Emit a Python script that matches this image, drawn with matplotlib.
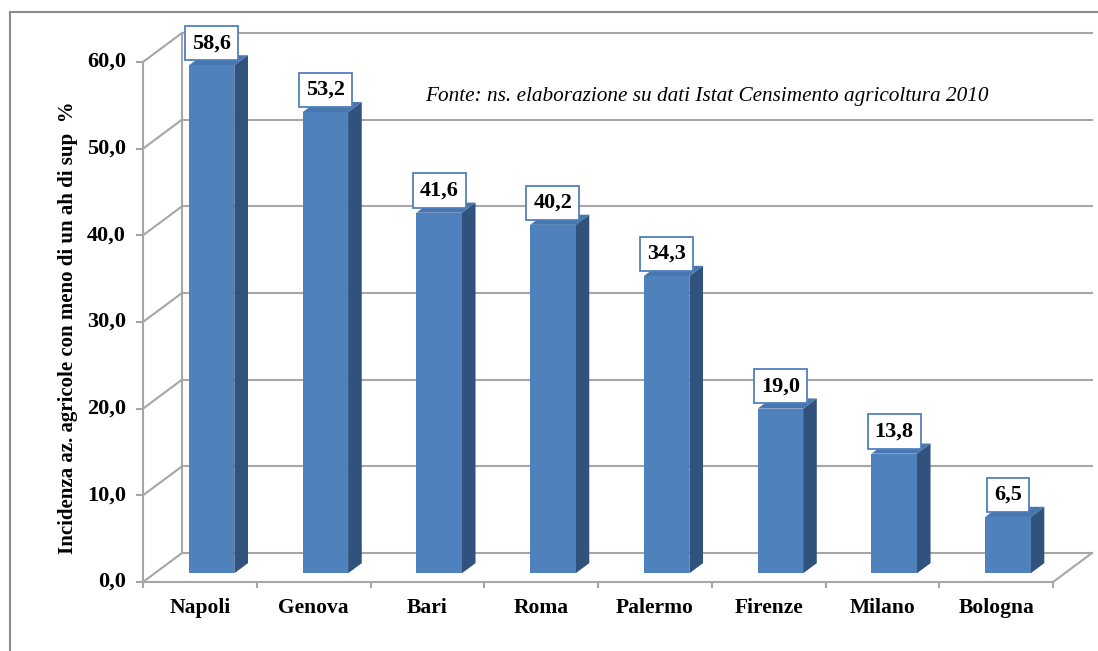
"""Incidenza aziende agricole con meno di un ettaro di superficie (%), per città.

Istogramma in stile "3D" (come Excel): colonne con faccia frontale, lato e
cima, parete di fondo con griglia e pavimento in prospettiva.
"""
import matplotlib.pyplot as plt
from matplotlib.patches import Polygon, Rectangle

plt.rcParams["font.family"] = ["Liberation Serif", "DejaVu Serif"]

cities = ["Napoli", "Genova", "Bari", "Roma", "Palermo", "Firenze", "Milano", "Bologna"]
values = [58.6, 53.2, 41.6, 40.2, 34.3, 19.0, 13.8, 6.5]
y_ticks = [0, 10, 20, 30, 40, 50, 60]

# prospettiva: spostamento del fondo (unità categoria, unità valore)
DX, DY = 0.343, 3.35
F0, F1 = 0.30, 0.65      # profondità della colonna (frazione)
BAR_W = 0.40

FRONT = "#4F81BD"
SIDE = "#31527C"
TOP = "#4776B0"
GRID = "#A6A6A6"

fig = plt.figure(figsize=(10.98, 6.51), dpi=100)
ax = fig.add_axes([0, 0, 1, 1])
ax.set_xlim(-1.257, 8.395)
ax.set_ylim(-7.96, 67.15)
ax.axis("off")

n = len(cities)

# --- pareti e pavimento ---
for v in y_ticks:
    ax.plot([0, DX], [v, v + DY], color=GRID, lw=1.5, zorder=1)
    ax.plot([DX, n + DX], [v + DY, v + DY], color=GRID, lw=1.5, zorder=1)
    ax.plot([-0.05, 0], [v, v], color=GRID, lw=1.5, zorder=1)
    ax.text(-0.15, v, f"{v:.1f}".replace(".", ","), ha="right", va="center",
            fontsize=16, fontweight="bold")
ax.plot([DX, DX], [DY, y_ticks[-1] + DY], color=GRID, lw=1.5, zorder=1)
ax.plot([0, 0], [0, y_ticks[-1]], color=GRID, lw=1.5, zorder=1)
ax.plot([0, n], [0, 0], color=GRID, lw=1.5, zorder=1)
ax.plot([n, n + DX], [0, DY], color=GRID, lw=1.5, zorder=1)
for i in range(n + 1):
    ax.plot([i, i], [0, -0.6], color=GRID, lw=1.5, zorder=1)

# --- colonne ---
for i, (city, v) in enumerate(zip(cities, values)):
    x0 = i + 0.5 - BAR_W / 2 + F0 * DX
    x1 = x0 + BAR_W
    y0 = F0 * DY
    ddx, ddy = (F1 - F0) * DX, (F1 - F0) * DY
    ax.add_patch(Polygon([(x1, y0), (x1 + ddx, y0 + ddy), (x1 + ddx, y0 + v + ddy), (x1, y0 + v)],
                         closed=True, fc=SIDE, ec="none", zorder=3))
    ax.add_patch(Polygon([(x0, y0 + v), (x1, y0 + v), (x1 + ddx, y0 + v + ddy), (x0 + ddx, y0 + v + ddy)],
                         closed=True, fc=TOP, ec="none", zorder=3))
    ax.add_patch(Rectangle((x0, y0), BAR_W, v, fc=FRONT, ec="none", zorder=4))

    ax.annotate(f"{v:.1f}".replace(".", ","), xy=(i + 0.5 + F0 * DX, v + F1 * DY),
                xytext=(0, 1.5), textcoords="offset points", ha="center", va="bottom",
                fontsize=16, fontweight="bold", zorder=5,
                bbox=dict(boxstyle="square,pad=0.32", fc="white", ec=FRONT, lw=1.3))

    ax.text(i + 0.5, -3.0, city, ha="center", va="center", fontsize=15.5, fontweight="bold")

ax.text(-0.66, 29.4, "Incidenza az. agricole con meno di un ah di sup  %", rotation=90,
        ha="center", va="center", fontsize=15, fontweight="bold")

ax.text(425 / 1098, 1 - 97 / 651,
        "Fonte: ns. elaborazione su dati Istat Censimento agricoltura 2010",
        transform=ax.transAxes, ha="left", va="center", fontsize=15.3, style="italic")

# cornice esterna (tagliata a destra e in basso)
fig.add_artist(Rectangle((10 / 1098, -0.05), 1.1, 1 - 12 / 651 + 0.05,
                         transform=fig.transFigure, fill=False, ec="#8C8C8C", lw=1.5))

fig.savefig("out.png", dpi=100)
